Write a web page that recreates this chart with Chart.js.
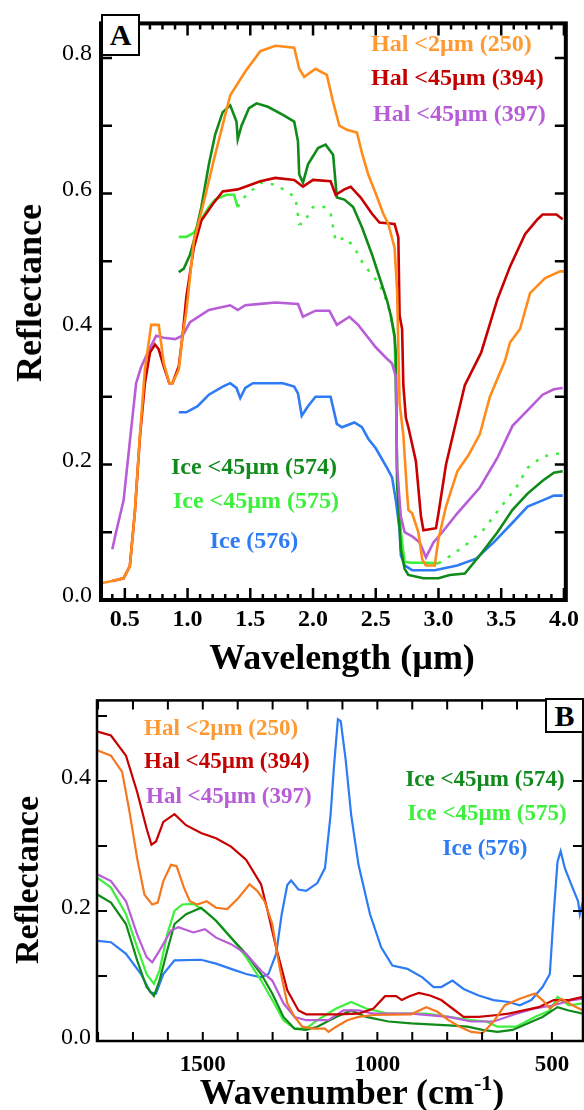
<!DOCTYPE html>
<html>
<head>
<meta charset="utf-8">
<script src="https://cdn.jsdelivr.net/npm/chart.js@4.4.1/dist/chart.umd.min.js"></script>
<style>
  html, body { margin: 0; padding: 0; background: #fff; }
  #wrap { position: relative; width: 584px; height: 1110px; overflow: hidden; font-family: "Liberation Serif", "Times New Roman", serif; }
  canvas { position: absolute; left: 0; }
  .t { position: absolute; white-space: nowrap; line-height: 1; font-weight: bold; }
  .c { transform: translate(-50%, -50%); }
  .l { transform: translateY(-50%); }
  .rot { transform: translate(-50%, -50%) rotate(-90deg); }
  .box { position: absolute; border: 2px solid #000; background: #fff; box-sizing: border-box;
         display: flex; align-items: center; justify-content: center; font-weight: bold; font-size: 30px; }
  sup { font-size: 22px; vertical-align: 14px; line-height: 0; }
</style>
</head>
<body>
<div id="wrap">
  <canvas id="cA" width="584" height="680" style="top:0"></canvas>
  <canvas id="cB" width="584" height="430" style="top:680px"></canvas>

  <div class="box" style="left:101px;top:14px;width:39px;height:42px;">A</div>
  <div class="t l" style="left:371px;top:43px;font-size:24px;color:#ff9a33;">Hal &lt;2µm (250)</div>
  <div class="t l" style="left:371px;top:77px;font-size:24px;color:#c40000;">Hal &lt;45µm (394)</div>
  <div class="t l" style="left:373px;top:113px;font-size:24px;color:#b85cd8;">Hal &lt;45µm (397)</div>
  <div class="t c" style="left:254px;top:466px;font-size:24px;color:#138a1e;">Ice &lt;45µm (574)</div>
  <div class="t c" style="left:256px;top:500px;font-size:24px;color:#3cf03c;">Ice &lt;45µm (575)</div>
  <div class="t c" style="left:254px;top:540px;font-size:24px;color:#2d7bf5;">Ice (576)</div>
  <div class="t rot" style="left:29px;top:293px;font-size:36px;">Reflectance</div>
  <div class="t c" style="left:342px;top:657px;font-size:36px;">Wavelength (µm)</div>

  <div class="box" style="left:545px;top:698px;width:39px;height:35px;">B</div>
  <div class="t l" style="left:144px;top:727px;font-size:23px;color:#ff9a33;">Hal &lt;2µm (250)</div>
  <div class="t l" style="left:144px;top:760px;font-size:23px;color:#c40000;">Hal &lt;45µm (394)</div>
  <div class="t l" style="left:146px;top:795px;font-size:23px;color:#b85cd8;">Hal &lt;45µm (397)</div>
  <div class="t c" style="left:485px;top:778px;font-size:23px;color:#138a1e;">Ice &lt;45µm (574)</div>
  <div class="t c" style="left:487px;top:812px;font-size:23px;color:#3cf03c;">Ice &lt;45µm (575)</div>
  <div class="t c" style="left:485px;top:847px;font-size:23px;color:#2d7bf5;">Ice (576)</div>
  <div class="t rot" style="left:27px;top:880px;font-size:34px;">Reflectance</div>
  <div class="t c" style="left:352px;top:1092px;font-size:36px;">Wavenumber (cm<sup>-1</sup>)</div>
</div>

<script>
// ---------------- Panel A : reflectance vs wavelength (µm) ----------------
const aX250 = [0.32,0.40,0.49,0.54,0.58,0.62,0.66,0.71,0.77,0.81,0.855,0.88,0.93,0.96,0.99,1.05,1.12,1.21,1.34,1.46,1.58,1.70,1.85,1.89,1.93,2.02,2.11,2.16,2.21,2.27,2.35,2.39,2.44,2.50,2.56,2.60,2.65,2.67,2.69,2.72,2.75,2.76,2.79,2.84,2.87,2.90,2.97,3.00,3.06,3.15,3.24,3.33,3.41,3.53,3.57,3.65,3.73,3.85,3.97,4.00];
const aY250 = [0.025,0.028,0.032,0.05,0.13,0.243,0.34,0.406,0.406,0.35,0.32,0.32,0.34,0.39,0.425,0.53,0.58,0.65,0.745,0.78,0.81,0.818,0.815,0.784,0.772,0.784,0.775,0.735,0.70,0.694,0.69,0.66,0.628,0.60,0.57,0.555,0.52,0.457,0.29,0.243,0.157,0.133,0.128,0.10,0.06,0.051,0.051,0.09,0.138,0.19,0.214,0.245,0.30,0.353,0.38,0.40,0.453,0.475,0.485,0.485];

const aX394 = [0.40,0.49,0.54,0.58,0.62,0.66,0.70,0.74,0.77,0.81,0.855,0.88,0.93,0.96,0.99,1.05,1.11,1.20,1.28,1.40,1.46,1.58,1.70,1.85,1.92,2.00,2.14,2.18,2.25,2.30,2.38,2.47,2.53,2.65,2.68,2.69,2.71,2.72,2.74,2.76,2.82,2.86,2.88,2.98,3.00,3.06,3.13,3.21,3.34,3.47,3.57,3.69,3.79,3.83,3.94,3.99];
const aY394 = [0.028,0.032,0.05,0.13,0.24,0.32,0.365,0.377,0.37,0.345,0.32,0.32,0.345,0.39,0.447,0.52,0.56,0.584,0.603,0.606,0.61,0.618,0.623,0.62,0.61,0.62,0.618,0.598,0.606,0.61,0.594,0.57,0.557,0.555,0.535,0.42,0.40,0.317,0.269,0.255,0.205,0.124,0.103,0.106,0.128,0.20,0.255,0.317,0.365,0.444,0.492,0.54,0.562,0.569,0.569,0.562];

const aX397 = [0.40,0.43,0.49,0.54,0.59,0.63,0.69,0.75,0.81,0.90,0.96,1.02,1.17,1.34,1.40,1.46,1.58,1.70,1.88,1.92,2.02,2.13,2.19,2.29,2.36,2.44,2.50,2.59,2.63,2.66,2.67,2.70,2.73,2.79,2.85,2.90,2.96,3.03,3.15,3.33,3.47,3.59,3.71,3.83,3.92,3.99];
const aY397 = [0.075,0.10,0.147,0.234,0.32,0.344,0.368,0.39,0.387,0.385,0.39,0.41,0.428,0.435,0.428,0.435,0.437,0.439,0.437,0.418,0.427,0.427,0.406,0.418,0.406,0.387,0.373,0.356,0.349,0.33,0.195,0.123,0.10,0.094,0.085,0.063,0.085,0.10,0.128,0.166,0.21,0.257,0.28,0.303,0.311,0.313];

const aX574 = [0.93,0.97,1.02,1.05,1.11,1.17,1.22,1.28,1.34,1.39,1.40,1.43,1.49,1.55,1.64,1.76,1.85,1.88,1.89,1.92,1.96,2.04,2.10,2.16,2.19,2.25,2.32,2.39,2.47,2.53,2.59,2.62,2.65,2.66,2.67,2.70,2.73,2.76,2.88,3.00,3.09,3.21,3.33,3.47,3.59,3.71,3.83,3.92,3.99];
const aY574 = [0.484,0.489,0.51,0.53,0.58,0.643,0.687,0.72,0.73,0.706,0.68,0.70,0.726,0.733,0.728,0.716,0.706,0.677,0.628,0.616,0.643,0.667,0.672,0.657,0.594,0.591,0.58,0.55,0.51,0.476,0.442,0.42,0.39,0.363,0.171,0.075,0.046,0.037,0.032,0.032,0.037,0.039,0.066,0.10,0.133,0.157,0.176,0.188,0.19];

const aX575 = [0.93,0.99,1.05,1.11,1.17,1.22,1.31,1.37,1.40,1.45,1.58,1.70,1.79,1.86,1.89,1.92,2.00,2.09,2.14,2.18,2.26,2.33,2.40,2.47,2.53,2.59,2.62,2.65,2.66,2.67,2.70,2.73,2.79,2.91,3.00,3.06,3.21,3.36,3.50,3.62,3.71,3.83,3.99];
const aY575 = [0.536,0.536,0.542,0.562,0.58,0.591,0.598,0.598,0.58,0.594,0.616,0.613,0.603,0.594,0.555,0.555,0.58,0.58,0.57,0.53,0.535,0.52,0.496,0.48,0.466,0.44,0.42,0.387,0.315,0.195,0.10,0.056,0.055,0.055,0.054,0.061,0.08,0.104,0.138,0.166,0.195,0.212,0.217];

const aX576 = [0.93,0.99,1.08,1.17,1.28,1.34,1.39,1.42,1.46,1.52,1.76,1.85,1.88,1.91,1.96,2.02,2.14,2.19,2.23,2.33,2.39,2.44,2.50,2.59,2.63,2.66,2.69,2.70,2.73,2.79,2.97,3.15,3.30,3.44,3.59,3.71,3.83,3.92,3.99];
const aY576 = [0.277,0.277,0.286,0.303,0.315,0.32,0.313,0.298,0.313,0.32,0.32,0.315,0.305,0.272,0.286,0.30,0.30,0.26,0.255,0.262,0.255,0.238,0.224,0.195,0.181,0.147,0.104,0.066,0.051,0.044,0.044,0.051,0.061,0.085,0.114,0.138,0.147,0.154,0.154];

const aXTicks = [0.5,1.0,1.5,2.0,2.5,3.0,3.5,4.0];
const aYTicks = [0.0,0.2,0.4,0.6,0.8];

// ---------------- Panel B : reflectance vs wavenumber (cm-1) ----------------
const bX250 = [1801,1763,1731,1710,1688,1667,1645,1629,1613,1591,1575,1554,1537,1516,1489,1462,1430,1398,1366,1344,1323,1301,1280,1258,1237,1215,1183,1150,1140,1118,1086,1054,1011,903,860,828,796,764,731,699,667,635,592,549,527,506,473,441,411];
const bY250 = [0.447,0.439,0.414,0.353,0.281,0.225,0.21,0.213,0.246,0.271,0.269,0.236,0.215,0.21,0.215,0.205,0.203,0.22,0.241,0.231,0.215,0.18,0.113,0.058,0.037,0.022,0.019,0.019,0.014,0.022,0.032,0.037,0.04,0.041,0.052,0.045,0.032,0.022,0.014,0.012,0.03,0.055,0.065,0.073,0.063,0.05,0.065,0.055,0.047];

const bX394 = [1801,1763,1720,1688,1661,1647,1634,1613,1581,1548,1505,1462,1419,1376,1333,1312,1290,1258,1226,1204,1118,1054,1011,978,946,930,908,881,849,817,785,753,710,656,624,581,538,495,452,411];
const bY394 = [0.476,0.47,0.439,0.383,0.327,0.302,0.307,0.337,0.349,0.332,0.32,0.312,0.299,0.279,0.241,0.195,0.144,0.078,0.047,0.041,0.041,0.042,0.05,0.069,0.069,0.063,0.069,0.074,0.07,0.063,0.05,0.037,0.037,0.04,0.042,0.047,0.052,0.063,0.063,0.068];

const bX397 = [1801,1763,1720,1688,1661,1645,1624,1591,1570,1527,1494,1462,1419,1376,1333,1301,1269,1237,1204,1140,1097,1054,1011,903,796,731,667,602,549,495,441,411];
const bY397 = [0.256,0.246,0.215,0.164,0.129,0.121,0.139,0.17,0.175,0.167,0.172,0.159,0.149,0.134,0.108,0.093,0.058,0.037,0.032,0.032,0.047,0.047,0.042,0.042,0.037,0.03,0.03,0.042,0.05,0.055,0.063,0.065];

const bX574 = [1801,1763,1720,1688,1661,1640,1624,1602,1581,1548,1505,1462,1419,1376,1333,1301,1269,1237,1204,1172,1118,1075,1032,968,903,796,742,699,656,613,570,527,484,452,411];
const bY574 = [0.225,0.213,0.18,0.124,0.083,0.069,0.093,0.139,0.18,0.195,0.205,0.185,0.159,0.134,0.103,0.073,0.037,0.019,0.017,0.022,0.037,0.047,0.037,0.03,0.027,0.024,0.022,0.017,0.014,0.017,0.027,0.037,0.052,0.047,0.042];

const bX575 = [1801,1763,1720,1688,1661,1640,1624,1602,1581,1559,1527,1494,1462,1419,1376,1333,1301,1269,1237,1204,1172,1118,1075,1032,968,903,860,796,731,688,656,602,549,506,484,452,411];
const bY575 = [0.251,0.236,0.195,0.144,0.103,0.088,0.108,0.164,0.20,0.21,0.211,0.20,0.185,0.159,0.129,0.093,0.063,0.032,0.019,0.019,0.032,0.05,0.06,0.05,0.042,0.042,0.042,0.037,0.032,0.03,0.022,0.022,0.037,0.047,0.068,0.055,0.058];

const bX576 = [1801,1763,1720,1677,1650,1634,1613,1581,1505,1462,1419,1376,1333,1312,1290,1274,1258,1247,1226,1204,1172,1150,1134,1124,1113,1105,1091,1075,1054,1021,989,957,914,871,839,817,785,753,710,667,624,592,559,527,506,495,484,475,463,441,425,420,411];
const bY576 = [0.154,0.152,0.134,0.103,0.075,0.073,0.103,0.124,0.125,0.119,0.111,0.103,0.098,0.103,0.134,0.195,0.24,0.247,0.233,0.231,0.243,0.266,0.348,0.424,0.495,0.492,0.434,0.348,0.271,0.195,0.144,0.116,0.111,0.098,0.083,0.083,0.093,0.08,0.07,0.063,0.06,0.055,0.063,0.083,0.103,0.195,0.276,0.292,0.266,0.236,0.215,0.195,0.215];

const bXTicks = [1500,1000,500];
const bYTicks = [0.0,0.2,0.4];

// ---------------- helpers ----------------
const pts = (xs, ys) => xs.map((x, i) => ({ x: x, y: ys[i] }));
const FONT = "'Liberation Serif', 'Times New Roman', serif";

const COL = {
  c250A: '#ff8c1a', c250B: '#f4781f', c394: '#c80000', c397: '#b85cd8',
  c574: '#108a18', c575: '#3cf03c', c576: '#2d7bf5'
};

function ds(data, color, width, extra) {
  return Object.assign({ data: data, borderColor: color, backgroundColor: color, borderWidth: width,
    pointRadius: 0, tension: 0, fill: false }, extra || {});
}

const frameTicks = {
  id: 'frameTicks',
  afterDatasetsDraw(chart, args, o) {
    const { ctx, chartArea: a } = chart;
    const x = chart.scales.x, y = chart.scales.y;
    ctx.save();
    ctx.strokeStyle = '#000';
    ctx.lineWidth = o.tickWidth;
    ctx.beginPath();
    const xs = (v, len) => {
      const p = x.getPixelForValue(v);
      ctx.moveTo(p, a.bottom); ctx.lineTo(p, a.bottom - len);
      ctx.moveTo(p, a.top); ctx.lineTo(p, a.top + len);
    };
    const ys = (v, len) => {
      const p = y.getPixelForValue(v);
      ctx.moveTo(a.left, p); ctx.lineTo(a.left + len, p);
      ctx.moveTo(a.right, p); ctx.lineTo(a.right - len, p);
    };
    o.xMinor.forEach(v => xs(v, o.xMinorLen));
    o.xMajor.forEach(v => xs(v, o.xMajorLen));
    o.yMinor.forEach(v => ys(v, o.yLen));
    ctx.stroke();
    ctx.lineWidth = o.frameWidth;
    ctx.strokeRect(a.left, a.top, a.right - a.left, a.bottom - a.top);
    ctx.restore();
  }
};

function range(a, b, step) { const r = []; for (let v = a; v <= b + 1e-9; v += step) r.push(+v.toFixed(4)); return r; }

// ---------------- Chart A ----------------
const dashIn = (v) => (v >= 1.38 && v < 2.62) || (v >= 2.97 && v < 3.85);
new Chart(document.getElementById('cA'), {
  type: 'line',
  data: {
    datasets: [
      ds(pts(aX250, aY250), COL.c250A, 2.6),
      ds(pts(aX394, aY394), COL.c394, 2.6),
      ds(pts(aX397, aY397), COL.c397, 2.6),
      ds(pts(aX574, aY574), COL.c574, 2.6),
      ds(pts(aX575, aY575), COL.c575, 2.6, { segment: { borderDash: c => dashIn(c.p0.parsed.x) ? [3, 8] : undefined } }),
      ds(pts(aX576, aY576), COL.c576, 2.6)
    ]
  },
  options: {
    responsive: false, animation: false, devicePixelRatio: 1,
    layout: { padding: { top: 14, right: 15, left: 0, bottom: 0 } },
    plugins: { legend: { display: false }, tooltip: { enabled: false },
      frameTicks: { tickWidth: 2.5, frameWidth: 4, xMajor: aXTicks, xMinor: range(0.4, 3.9, 0.1),
        xMajorLen: 12, xMinorLen: 6, yMinor: range(0.1, 0.8, 0.1), yLen: 11 } },
    scales: {
      x: { type: 'linear', min: 0.31, max: 4.015,
        grid: { display: false, drawTicks: false }, border: { display: false },
        afterBuildTicks: s => { s.ticks = aXTicks.map(v => ({ value: v })); },
        afterFit: s => { s.height = 80; },
        ticks: { padding: 5, color: '#000', maxRotation: 0, autoSkip: false,
          font: { family: FONT, size: 24, weight: 'bold' }, callback: v => v.toFixed(1) } },
      y: { type: 'linear', min: 0, max: 0.851,
        grid: { display: false, drawTicks: false }, border: { display: false },
        afterBuildTicks: s => { s.ticks = aYTicks.map(v => ({ value: v })); },
        afterFit: s => { s.width = 101; },
        ticks: { padding: 9, labelOffset: -4, color: '#000', autoSkip: false,
          font: { family: FONT, size: 24 }, callback: v => v.toFixed(1) } }
    }
  },
  plugins: [frameTicks]
});

// ---------------- Chart B ----------------
new Chart(document.getElementById('cB'), {
  type: 'line',
  data: {
    datasets: [
      ds(pts(bX250, bY250), COL.c250B, 2.2),
      ds(pts(bX394, bY394), COL.c394, 2.2),
      ds(pts(bX397, bY397), COL.c397, 2.2),
      ds(pts(bX574, bY574), COL.c574, 2.2),
      ds(pts(bX575, bY575), COL.c575, 2.2),
      ds(pts(bX576, bY576), COL.c576, 2.2)
    ]
  },
  options: {
    responsive: false, animation: false, devicePixelRatio: 1,
    layout: { padding: { top: 18, right: 1, left: 0, bottom: 0 } },
    plugins: { legend: { display: false }, tooltip: { enabled: false },
      frameTicks: { tickWidth: 2, frameWidth: 2.5, xMajor: [], xMinor: range(500, 1800, 100),
        xMajorLen: 9, xMinorLen: 9, yMinor: range(0.1, 0.5, 0.1), yLen: 10 } },
    scales: {
      x: { type: 'linear', min: 411, max: 1803, reverse: true,
        grid: { display: false, drawTicks: false }, border: { display: false },
        afterBuildTicks: s => { s.ticks = bXTicks.map(v => ({ value: v })); },
        afterFit: s => { s.height = 69; },
        ticks: { padding: 10, color: '#000', maxRotation: 0, autoSkip: false,
          font: { family: FONT, size: 23, weight: 'bold' }, callback: v => String(v) } },
      y: { type: 'linear', min: 0, max: 0.524,
        grid: { display: false, drawTicks: false }, border: { display: false },
        afterBuildTicks: s => { s.ticks = bYTicks.map(v => ({ value: v })); },
        afterFit: s => { s.width = 97; },
        ticks: { padding: 6, labelOffset: -3, color: '#000', autoSkip: false,
          font: { family: FONT, size: 24 }, callback: v => v.toFixed(1) } }
    }
  },
  plugins: [frameTicks]
});
</script>
</body>
</html>
